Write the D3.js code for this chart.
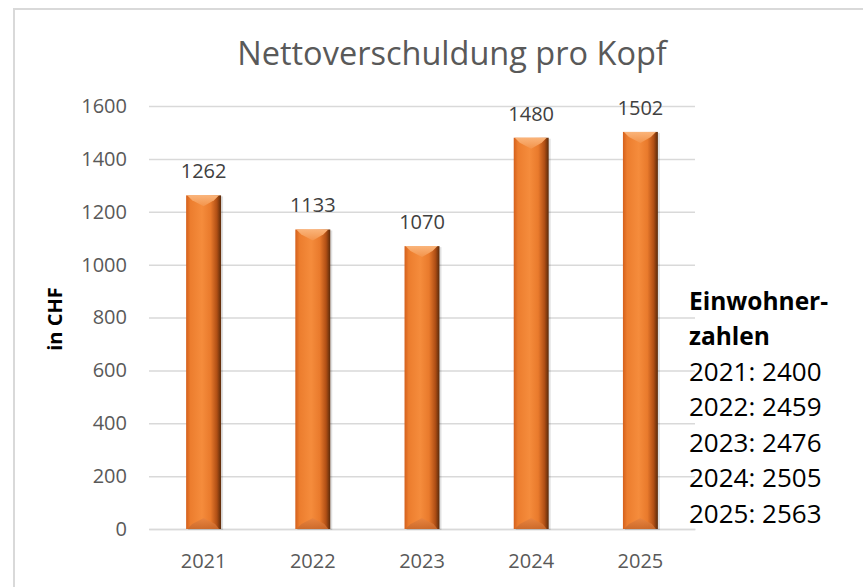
<!DOCTYPE html>
<html><head><meta charset="utf-8">
<script src="https://cdn.jsdelivr.net/npm/d3@7"></script>
<style>
html,body{margin:0;padding:0;background:#fff;}
svg{display:block;font-family:"Open Sans",sans-serif;}
</style></head>
<body>
<script>
const years = ["2021","2022","2023","2024","2025"];
const values = [1262,1133,1070,1480,1502];
const yTicks = [0,200,400,600,800,1000,1200,1400,1600];
const chartTitle = "Nettoverschuldung pro Kopf";
const yAxisTitle = "in CHF";
const popTitle = ["Einwohner-","zahlen"];
const popYears = ["2021","2022","2023","2024","2025"];
const popValues = [2400,2459,2476,2505,2563];

(function(){
const W = 863, H = 587;
const svg = d3.select("body").append("svg").attr("width",W).attr("height",H);

// chart frame
svg.append("rect").attr("x",14).attr("y",9).attr("width",900).attr("height",700)
  .attr("fill","#fff").attr("stroke","#d9d9d9").attr("stroke-width",2);

const pL = 149, pR = 695, pT = 106, pB = 529;
const x = d3.scaleBand().domain(years).range([pL,pR]).paddingInner(0.68).paddingOuter(0.34);
const y = d3.scaleLinear().domain([0,1600]).range([pB,pT]);

// gridlines + y labels
const yAxis = svg.append("g").attr("transform",`translate(${pL},0)`)
  .call(d3.axisLeft(y).tickValues(yTicks).tickFormat(d3.format("d")).tickSizeInner(-(pR-pL)).tickSizeOuter(0).tickPadding(22));
yAxis.select(".domain").remove();
yAxis.selectAll(".tick line").attr("stroke","#d9d9d9").attr("stroke-width",1.5);
yAxis.selectAll(".tick text").attr("fill","#595959").style("font-size","20px").style("font-family","'Open Sans',sans-serif");

// x axis
const xAxis = svg.append("g").attr("transform",`translate(0,${pB})`)
  .call(d3.axisBottom(x).tickSize(0).tickPadding(25));
xAxis.select(".domain").attr("stroke","#d9d9d9").attr("stroke-width",1.5);
xAxis.selectAll(".tick text").attr("fill","#595959").style("font-size","20px").style("font-family","'Open Sans',sans-serif");

// gradients
const defs = svg.append("defs");
const g1 = defs.append("linearGradient").attr("id","barBody").attr("x1","0").attr("x2","1").attr("y1","0").attr("y2","0");
[["0%","#d4601c"],["12%","#ec7d2e"],["45%","#f58c3c"],["70%","#e97a2c"],["88%","#b04f15"],["100%","#5a2a0a"]]
  .forEach(s=>g1.append("stop").attr("offset",s[0]).attr("stop-color",s[1]));
const g2 = defs.append("linearGradient").attr("id","barTop").attr("x1","0").attr("x2","0").attr("y1","0").attr("y2","1");
[["0%","#fab47a"],["100%","#f3934a"]].forEach(s=>g2.append("stop").attr("offset",s[0]).attr("stop-color",s[1]));
const g3 = defs.append("linearGradient").attr("id","barBot").attr("x1","0").attr("x2","0").attr("y1","0").attr("y2","1");
[["0%","#e88440"],["100%","#c9682a"]].forEach(s=>g3.append("stop").attr("offset",s[0]).attr("stop-color",s[1]));

const bw = x.bandwidth();
const bars = svg.append("g").selectAll("g").data(years.map((d,i)=>({year:d,value:values[i]}))).join("g");
bars.append("rect").attr("x",d=>x(d.year)+2).attr("y",d=>y(d.value)+1).attr("width",bw).attr("height",d=>y(0)-y(d.value))
  .attr("fill","#000").attr("opacity",0.12);
bars.append("rect").attr("x",d=>x(d.year)).attr("y",d=>y(d.value)).attr("width",bw).attr("height",d=>y(0)-y(d.value))
  .attr("fill","url(#barBody)");
bars.append("path").attr("d",d=>{const x0=x(d.year),y0=y(d.value);
  return `M${x0+1},${y0}L${x0+bw-2},${y0}L${x0+bw-7},${y0+5}L${x0+bw/2},${y0+11}L${x0+6},${y0+5}Z`;})
  .attr("fill","url(#barTop)");
bars.append("path").attr("d",d=>{const x0=x(d.year),y0=y(0);
  return `M${x0+1},${y0}L${x0+bw-2},${y0}L${x0+bw-6},${y0-5}L${x0+bw/2},${y0-11}L${x0+6},${y0-5}Z`;})
  .attr("fill","url(#barBot)").attr("opacity",0.9);

// data labels
bars.append("text").attr("x",d=>x(d.year)+bw/2).attr("y",d=>y(d.value)-17)
  .attr("text-anchor","middle").attr("fill","#404040").style("font-size","20px").text(d=>d.value);

// title
svg.append("text").attr("x",452).attr("y",65).attr("text-anchor","middle").attr("fill","#595959")
  .style("font-size","32.5px").text(chartTitle);

// y axis title
svg.append("text").attr("transform","translate(62,319) rotate(-90)").attr("text-anchor","middle")
  .attr("fill","#000").style("font-size","20px").style("font-weight","bold").text(yAxisTitle);

// population text
const pop = svg.append("g");
popTitle.forEach((t,i)=>pop.append("text").attr("x",689).attr("y",310+i*35.4)
  .style("font-size","24.5px").style("font-weight","bold").attr("fill","#000").text(t));
popYears.forEach((yr,i)=>pop.append("text").attr("x",689).attr("y",381+i*35.4)
  .style("font-size","26px").attr("fill","#000").text(`${yr}: ${popValues[i]}`));
})();
</script>
</body></html>
